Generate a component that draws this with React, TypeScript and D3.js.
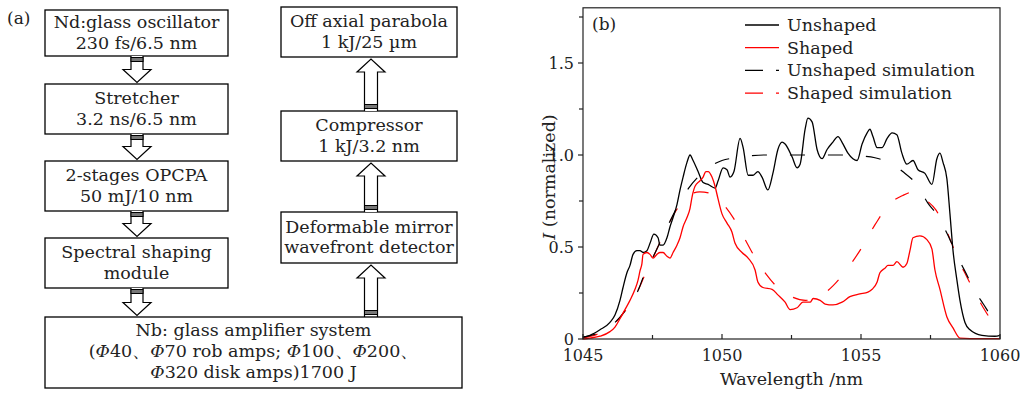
import React from "react";
import * as d3 from "d3";

// ---------- data ----------
const unshaped: [number, number][] = [
  [1045.0, 0.01], [1045.25, 0.02], [1045.61, 0.05], [1045.97, 0.09], [1046.15, 0.13], [1046.33, 0.21],
  [1046.44, 0.28], [1046.58, 0.36], [1046.69, 0.4], [1046.8, 0.46], [1046.94, 0.48], [1047.05, 0.48],
  [1047.16, 0.47], [1047.3, 0.48], [1047.41, 0.52], [1047.55, 0.57], [1047.7, 0.55], [1047.77, 0.51],
  [1047.88, 0.51], [1048.02, 0.55], [1048.13, 0.61], [1048.24, 0.66], [1048.38, 0.73], [1048.49, 0.81],
  [1048.6, 0.88], [1048.74, 0.96], [1048.85, 1.0], [1048.96, 0.97], [1049.14, 0.91], [1049.32, 0.85],
  [1049.5, 0.84], [1049.75, 0.82], [1049.86, 0.86], [1050.04, 0.93], [1050.18, 0.92], [1050.29, 0.88],
  [1050.43, 0.91], [1050.65, 1.09], [1050.76, 1.04], [1050.94, 0.89], [1051.12, 0.89], [1051.29, 0.91],
  [1051.44, 0.88], [1051.65, 0.81], [1051.83, 0.9], [1052.01, 1.03], [1052.16, 1.07], [1052.27, 1.06],
  [1052.52, 0.99], [1052.7, 0.93], [1052.81, 0.95], [1052.99, 1.14], [1053.09, 1.2], [1053.24, 1.18],
  [1053.42, 1.03], [1053.6, 0.98], [1053.78, 1.03], [1053.99, 1.07], [1054.17, 1.1], [1054.35, 1.06],
  [1054.53, 1.01], [1054.71, 0.98], [1054.86, 0.97], [1055.04, 1.06], [1055.22, 1.12], [1055.32, 1.14],
  [1055.43, 1.1], [1055.58, 1.04], [1055.76, 1.04], [1055.94, 1.09], [1056.12, 1.12], [1056.29, 1.11],
  [1056.47, 1.01], [1056.65, 0.95], [1056.87, 0.97], [1057.05, 0.92], [1057.3, 0.9], [1057.55, 0.84],
  [1057.73, 0.98], [1057.84, 1.01], [1057.95, 0.96], [1058.09, 0.87], [1058.2, 0.68], [1058.31, 0.48],
  [1058.45, 0.32], [1058.56, 0.21], [1058.74, 0.09], [1058.92, 0.05], [1059.35, 0.02], [1059.82, 0.015],
  [1060.0, 0.02],
];

const shaped: [number, number][] = [
  [1045.0, 0.0], [1045.25, 0.005], [1045.61, 0.015], [1045.97, 0.04], [1046.15, 0.065], [1046.33, 0.11],
  [1046.51, 0.16], [1046.69, 0.21], [1046.87, 0.27], [1046.98, 0.32], [1047.05, 0.37], [1047.12, 0.41],
  [1047.16, 0.46], [1047.3, 0.47], [1047.41, 0.46], [1047.52, 0.44], [1047.66, 0.46], [1047.77, 0.47],
  [1047.88, 0.47], [1048.02, 0.45], [1048.13, 0.44], [1048.24, 0.47], [1048.38, 0.51], [1048.49, 0.55],
  [1048.6, 0.61], [1048.74, 0.66], [1048.85, 0.71], [1048.92, 0.77], [1049.03, 0.83], [1049.21, 0.86],
  [1049.32, 0.88], [1049.42, 0.91], [1049.5, 0.91], [1049.64, 0.88], [1049.75, 0.83], [1049.86, 0.76],
  [1050.0, 0.68], [1050.18, 0.63], [1050.36, 0.58], [1050.47, 0.52], [1050.72, 0.47], [1050.94, 0.44],
  [1051.19, 0.375], [1051.29, 0.31], [1051.47, 0.28], [1051.8, 0.27], [1052.01, 0.24], [1052.27, 0.2],
  [1052.45, 0.16], [1052.7, 0.17], [1052.91, 0.2], [1053.17, 0.2], [1053.28, 0.22], [1053.53, 0.21],
  [1053.71, 0.19], [1053.99, 0.185], [1054.32, 0.2], [1054.6, 0.23], [1054.96, 0.245], [1055.25, 0.255],
  [1055.4, 0.27], [1055.58, 0.31], [1055.68, 0.36], [1055.86, 0.385], [1055.97, 0.4], [1056.15, 0.4],
  [1056.29, 0.42], [1056.51, 0.39], [1056.65, 0.41], [1056.76, 0.48], [1056.87, 0.55], [1057.12, 0.56],
  [1057.37, 0.54], [1057.55, 0.49], [1057.66, 0.375], [1057.84, 0.27], [1058.09, 0.12], [1058.31, 0.06],
  [1058.56, 0.005], [1059.28, 0.002], [1060.0, 0.002],
];

const unshapedSim: [number, number][] = [
  [1045, 0.01], [1045.5, 0.03], [1046, 0.07], [1046.5, 0.15], [1047, 0.27], [1047.2, 0.35], [1047.6, 0.47],
  [1048, 0.6], [1048.4, 0.72], [1048.8, 0.82], [1049.2, 0.89], [1049.6, 0.94], [1050, 0.97], [1050.5, 0.985],
  [1051, 0.995], [1051.5, 1.0], [1052.5, 1.0], [1053.5, 1.0], [1054.5, 1.0], [1055, 0.995], [1055.5, 0.985],
  [1056, 0.96], [1056.5, 0.91], [1057, 0.84], [1057.4, 0.74], [1057.8, 0.66], [1058.2, 0.54], [1058.5, 0.44],
  [1058.8, 0.35], [1059.1, 0.26], [1059.4, 0.19], [1059.7, 0.12], [1060, 0.065],
];

const shapedSim: [number, number][] = [
  [1045, 0.005], [1045.5, 0.025], [1046, 0.065], [1046.5, 0.15], [1047, 0.27], [1047.2, 0.34], [1047.6, 0.47],
  [1048, 0.6], [1048.4, 0.71], [1048.8, 0.78], [1049.2, 0.8], [1049.6, 0.79], [1050, 0.74], [1050.4, 0.66],
  [1050.8, 0.55], [1051.2, 0.44], [1051.6, 0.35], [1052, 0.28], [1052.5, 0.23], [1053, 0.21], [1053.5, 0.23],
  [1054, 0.29], [1054.5, 0.38], [1055, 0.49], [1055.5, 0.62], [1056, 0.73], [1056.5, 0.78], [1056.9, 0.8],
  [1057.3, 0.76], [1057.7, 0.7], [1058.1, 0.58], [1058.5, 0.43], [1058.8, 0.34], [1059.1, 0.25], [1059.4, 0.17],
  [1059.7, 0.1], [1060, 0.05],
];

const xMajorTicks = [1045, 1050, 1055, 1060];
const xMinorTicks = [1047.5, 1052.5, 1057.5];
const yMajorTicks = [0, 0.5, 1.0, 1.5];
const yTickLabels = ["0", "0.5", "1.0", "1.5"];
const yMinorTicks = [0.25, 0.75, 1.25, 1.75];

const legendLabels = ["Unshaped", "Shaped", "Unshaped simulation", "Shaped simulation"];
const legendColors = ["#000", "#ff0000", "#000", "#ff0000"];
const legendDashed = [false, false, true, true];

const leftBoxes = [
  ["Nd:glass oscillator", "230 fs/6.5 nm"],
  ["Stretcher", "3.2 ns/6.5 nm"],
  ["2-stages OPCPA", "50 mJ/10 nm"],
  ["Spectral shaping", "module"],
];
const rightBoxes = [
  ["Off axial parabola", "1 kJ/25 \u00b5m"],
  ["Compressor", "1 kJ/3.2 nm"],
  ["Deformable mirror", "wavefront detector"],
];

// ---------- layout ----------
const FONT = "'DejaVu Serif', serif";
const leftBoxGeom = [
  { x: 45, y: 10, w: 183, h: 46 },
  { x: 45, y: 84, w: 183, h: 50 },
  { x: 45, y: 161, w: 183, h: 50 },
  { x: 45, y: 238, w: 183, h: 50 },
];
const rightBoxGeom = [
  { x: 281, y: 7, w: 176, h: 50 },
  { x: 281, y: 111, w: 176, h: 50 },
  { x: 281, y: 212, w: 176, h: 51 },
];
const bigBox = { x: 45, y: 317, w: 417, h: 71 };

function DownArrow({ cx, y0, y1 }: { cx: number; y0: number; y1: number }) {
  const sw = 6, hw = 14, hh = 13;
  const d = `M${cx - sw},${y0} L${cx - sw},${y1 - hh} L${cx - hw},${y1 - hh} L${cx},${y1} L${cx + hw},${y1 - hh} L${cx + sw},${y1 - hh} L${cx + sw},${y0}`;
  return (
    <g>
      <path d={d} fill="#fff" stroke="#000" strokeWidth={1.2} />
      <rect x={cx - sw} y={y0 + 1.5} width={sw * 2} height={4} fill="#777" stroke="#000" strokeWidth={1} />
    </g>
  );
}
function UpArrow({ cx, y0, y1 }: { cx: number; y0: number; y1: number }) {
  // y0: tip (top), y1: base (bottom)
  const sw = 6.5, hw = 14, hh = 13;
  const d = `M${cx - sw},${y1} L${cx - sw},${y0 + hh} L${cx - hw},${y0 + hh} L${cx},${y0} L${cx + hw},${y0 + hh} L${cx + sw},${y0 + hh} L${cx + sw},${y1}`;
  return (
    <g>
      <path d={d} fill="#fff" stroke="#000" strokeWidth={1.2} />
      <rect x={cx - sw} y={y1 - 6.5} width={sw * 2} height={4} fill="#777" stroke="#000" strokeWidth={1} />
    </g>
  );
}

function Box({ g, lines }: { g: { x: number; y: number; w: number; h: number }; lines: string[] }) {
  const cy = g.y + g.h / 2;
  const cx = g.x + g.w / 2;
  return (
    <g>
      <rect x={g.x} y={g.y} width={g.w} height={g.h} fill="#fff" stroke="#000" strokeWidth={1.3} />
      <text x={cx} y={cy - 5} textAnchor="middle" fontFamily={FONT} fontSize={17.5} fill="#222">{lines[0]}</text>
      <text x={cx} y={cy + 15.5} textAnchor="middle" fontFamily={FONT} fontSize={17.5} fill="#222">{lines[1]}</text>
    </g>
  );
}

export default function App() {
  const x = d3.scaleLinear().domain([1045, 1060]).range([583, 1000]);
  const y = d3.scaleLinear().domain([0, 1.8]).range([339, 7.8]);
  const line = d3
    .line<[number, number]>()
    .x((d) => x(d[0]))
    .y((d) => y(d[1]))
    .curve(d3.curveMonotoneX);

  const lx = bigBox.x + bigBox.w / 2;
  const bcy = bigBox.y + bigBox.h / 2;
  const italicPhi = (n: string) => (
    <>
      <tspan fontStyle="italic">{"\u03a6"}</tspan>
      {n}
    </>
  );

  return (
    <svg width={1022} height={398} style={{ position: "absolute", left: 0, top: 0, background: "#fff" }}>
      <rect width={1022} height={398} fill="#fff" />
      {/* ---------- panel (a) ---------- */}
      <text x={7} y={24} fontFamily={FONT} fontSize={17} fill="#222">(a)</text>
      {leftBoxes.map((l, i) => (
        <Box key={"l" + i} g={leftBoxGeom[i]} lines={l} />
      ))}
      {rightBoxes.map((l, i) => (
        <Box key={"r" + i} g={rightBoxGeom[i]} lines={l} />
      ))}
      {leftBoxGeom.map((g, i) => {
        const next = i < leftBoxGeom.length - 1 ? leftBoxGeom[i + 1].y : bigBox.y;
        return <DownArrow key={"da" + i} cx={137} y0={g.y + g.h} y1={next - 1.5} />;
      })}
      <UpArrow cx={371} y0={rightBoxGeom[0].y + rightBoxGeom[0].h + 2} y1={rightBoxGeom[1].y} />
      <UpArrow cx={371} y0={rightBoxGeom[1].y + rightBoxGeom[1].h + 2} y1={rightBoxGeom[2].y} />
      <UpArrow cx={371} y0={rightBoxGeom[2].y + rightBoxGeom[2].h + 2} y1={bigBox.y} />
      <rect x={bigBox.x} y={bigBox.y} width={bigBox.w} height={bigBox.h} fill="#fff" stroke="#000" strokeWidth={1.3} />
      <text x={lx} y={bcy - 16.5} textAnchor="middle" fontFamily={FONT} fontSize={17.5} fill="#222">
        Nb: glass amplifier system
      </text>
      <text x={lx} y={bcy + 4.5} textAnchor="middle" fontFamily={FONT} fontSize={17.5} fill="#222">
        ({italicPhi("40")}{"\u3001"}{italicPhi("70 rob amps; ")}{italicPhi("100")}{"\u3001"}{italicPhi("200")}{"\u3001"}
      </text>
      <text x={lx} y={bcy + 25.5} textAnchor="middle" fontFamily={FONT} fontSize={17.5} fill="#222">
        {italicPhi("320 disk amps)1700 J")}
      </text>

      {/* ---------- panel (b) ---------- */}
      <path d={line(shapedSim) || ""} fill="none" stroke="#ff0000" strokeWidth={1.2} strokeDasharray="15 23" />
      <path d={line(unshapedSim) || ""} fill="none" stroke="#000" strokeWidth={1.2} strokeDasharray="15 23" strokeDashoffset={2} />
      <path d={line(unshaped) || ""} fill="none" stroke="#000" strokeWidth={1.3} />
      <path d={line(shaped) || ""} fill="none" stroke="#ff0000" strokeWidth={1.3} />

      <rect x={583} y={7.8} width={417} height={331.2} fill="none" stroke="#222" strokeWidth={1.2} />
      {xMajorTicks.map((t) => (
        <g key={"xm" + t}>
          <line x1={x(t)} x2={x(t)} y1={339} y2={334} stroke="#222" strokeWidth={1.2} />
          <text x={x(t)} y={361} textAnchor="middle" fontFamily={FONT} fontSize={16} fill="#222">{t}</text>
        </g>
      ))}
      {xMinorTicks.map((t) => (
        <line key={"xn" + t} x1={x(t)} x2={x(t)} y1={339} y2={335} stroke="#222" strokeWidth={1.2} />
      ))}
      {yMajorTicks.map((t, i) => (
        <g key={"ym" + t}>
          <line x1={578} x2={583} y1={y(t)} y2={y(t)} stroke="#222" strokeWidth={1.2} />
          <text x={574} y={y(t) + 5.5} textAnchor="end" fontFamily={FONT} fontSize={16} fill="#222">{yTickLabels[i]}</text>
        </g>
      ))}
      {yMinorTicks.map((t) => (
        <line key={"yn" + t} x1={579} x2={583} y1={y(t)} y2={y(t)} stroke="#222" strokeWidth={1.2} />
      ))}
      <text x={791.5} y={385} textAnchor="middle" fontFamily={FONT} fontSize={17.5} fill="#222">Wavelength /nm</text>
      <text transform="translate(555,177) rotate(-90)" textAnchor="middle" fontFamily={FONT} fontSize={17.5} fill="#222">
        <tspan fontStyle="italic">I</tspan> (normalized)
      </text>
      <text x={592} y={30} fontFamily={FONT} fontSize={17} fill="#222">(b)</text>

      {legendLabels.map((lab, i) => {
        const ly = 25 + i * 22.7;
        return (
          <g key={"lg" + i}>
            <line
              x1={745}
              x2={779}
              y1={ly}
              y2={ly}
              stroke={legendColors[i]}
              strokeWidth={1.3}
              strokeDasharray={legendDashed[i] ? "18 13" : undefined}
            />
            <text x={787} y={ly + 6} fontFamily={FONT} fontSize={17.5} fill="#222">{lab}</text>
          </g>
        );
      })}
    </svg>
  );
}
